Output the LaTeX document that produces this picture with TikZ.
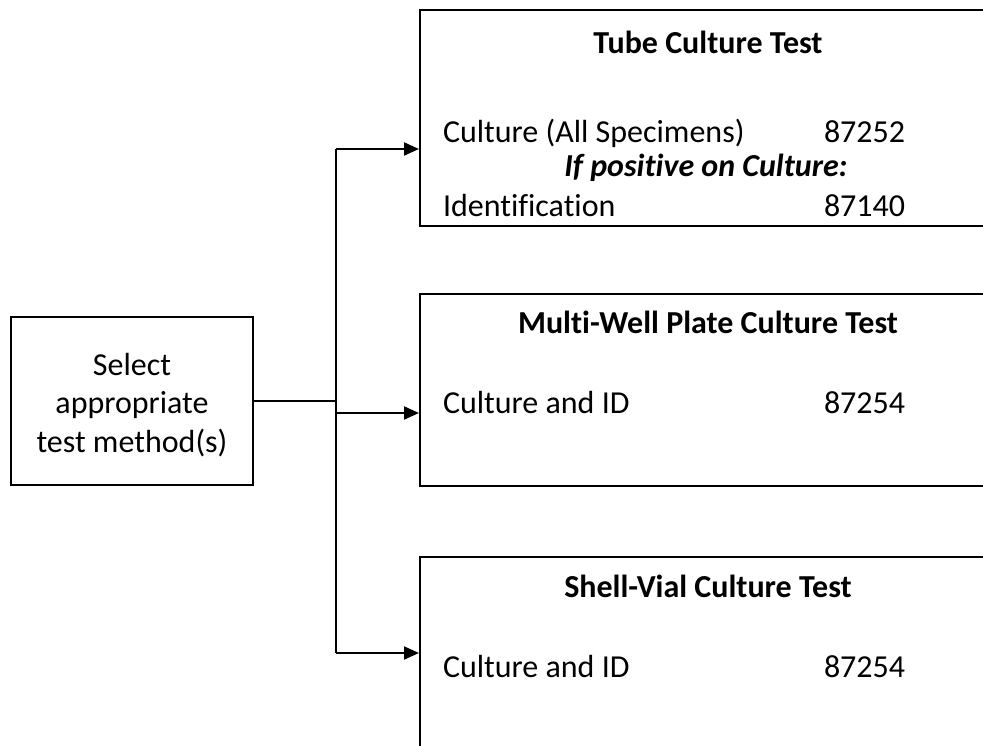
\documentclass[tikz,border=0pt]{standalone}
\usepackage{fontspec}
\setmainfont{Carlito}[Ligatures=NoCommon]
\usetikzlibrary{arrows.meta}

\tikzset{
  box/.style={draw, line width=2pt, rectangle, inner sep=0pt},
  txt/.style={anchor=base west, inner sep=0pt, font=\fontsize{32}{38.5}\selectfont},
  head/.style={anchor=base, inner sep=0pt, font=\fontsize{32}{38.5}\selectfont\bfseries}
}

\begin{document}
\begin{tikzpicture}[x=1pt, y=-1pt, line width=2pt, >={Triangle[length=15pt,width=13pt]}]
    \clip (0,0) rectangle (983,745);
    % Start box
    \node[box, minimum width=242pt, minimum height=168pt] (select) at (132,401) {};
    \node[align=center, inner sep=0pt, font=\fontsize{32}{38.5}\selectfont] (selecttxt) at (132,405) {Select\\appropriate\\test method(s)};
    % Test boxes (run past the page edge)
    \node[box, minimum width=600pt, minimum height=216pt] (tube) at (720,118) {};
    \node[box, minimum width=600pt, minimum height=192pt] (multi) at (720,390) {};
    \node[box, minimum width=600pt, minimum height=220pt] (shell) at (720,667) {};
    % Tube culture
    \node[head] (tubehead) at (708,53) {Tube Culture Test};
    \node[txt] (tubeA) at (442,142) {Culture (All Specimens)};
    \node[txt] (tubeAcode) at (823,142) {87252};
    \node[head, font=\fontsize{32}{38.5}\selectfont\bfseries\itshape] (tubeif) at (706,176) {If positive on Culture:};
    \node[txt] (tubeB) at (442,216) {Identification};
    \node[txt] (tubeBcode) at (823,216) {87140};
    % Multi-well plate
    \node[head] (multihead) at (708,333) {Multi-Well Plate Culture Test};
    \node[txt] (multiA) at (442,413) {Culture and ID};
    \node[txt] (multiAcode) at (823,413) {87254};
    % Shell vial
    \node[head] (shellhead) at (708,597) {Shell-Vial Culture Test};
    \node[txt] (shellA) at (442,677) {Culture and ID};
    \node[txt] (shellAcode) at (823,677) {87254};
    % Connectors
    \coordinate (split) at (336,401);
    \coordinate (toptap) at (336,149);
    \coordinate (midtap) at (336,413);
    \coordinate (bottap) at (336,653);
    \draw (select.east |- split) -- (split);
    \draw (toptap) -- (bottap);
    \draw[->] (toptap) -- (tube.west |- toptap);
    \draw[->] (midtap) -- (multi.west |- midtap);
    \draw[->] (bottap) -- (shell.west |- bottap);
\end{tikzpicture}
\end{document}
